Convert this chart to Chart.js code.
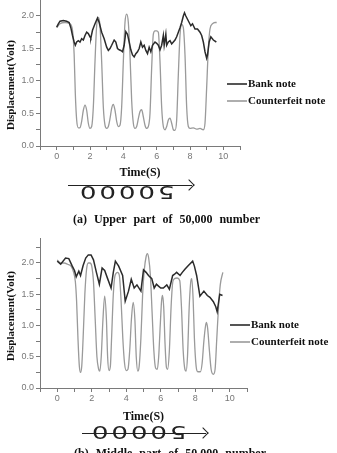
<!DOCTYPE html>
<html>
<head>
<meta charset="utf-8">
<script src="https://cdn.jsdelivr.net/npm/chart.js@4.4.1/dist/chart.umd.min.js"></script>
<style>
  html, body { margin: 0; padding: 0; background: #fff; }
  body { width: 337px; height: 453px; position: relative; overflow: hidden; }
  .box { position: absolute; left: 0; width: 337px; }
  .cap { position: absolute; font: bold 12px "Liberation Serif", serif; word-spacing: 4px; color: #111; white-space: nowrap; }
  .arrow { position: absolute; height: 20px; }
  .arrow .shaft { position: absolute; left: 0; right: 2px; height: 0; border-top: 1.6px solid #222; }
  .arrow .head { position: absolute; right: 1px; width: 7px; height: 7px; border-top: 1.6px solid #222; border-right: 1.6px solid #222; transform: rotate(45deg); }
  .arrow .num { position: absolute; font: 18px "DejaVu Sans", sans-serif; letter-spacing: 2px; color: #222; transform: rotate(180deg) scaleX(1.45); transform-origin: center; }
</style>
</head>
<body>
<div class="box" style="top:-10px;height:190px"><canvas id="chartA"></canvas></div>
<div class="box" style="top:238px;height:186px"><canvas id="chartB"></canvas></div>

<div class="arrow" style="left:68px;top:176px;width:126px">
  <div class="shaft" style="top:9px"></div>
  <div class="head" style="top:5px"></div>
  <div class="num" style="left:24px;top:6px">50000</div>
</div>
<div class="cap" style="left:73px;top:212px">(a) Upper part of 50,000 number</div>

<div class="arrow" style="left:82px;top:423px;width:126px">
  <div class="shaft" style="top:10px"></div>
  <div class="head" style="top:6px"></div>
  <div class="num" style="left:22px;top:-1px">50000</div>
</div>
<div class="cap" style="left:74px;top:446px">(b) Middle part of 50,000 number</div>

<script>
// (a) upper part
const bankTimeA = [0, 0.1, 0.2, 0.4, 0.6, 0.75, 0.85, 0.95, 1.05, 1.12, 1.2, 1.3, 1.4, 1.5, 1.6, 1.7, 1.8, 1.9, 2.0, 2.05, 2.15, 2.3, 2.45, 2.55, 2.7, 2.85, 3.0, 3.1, 3.2, 3.3, 3.45, 3.55, 3.65, 3.75, 3.85, 3.95, 4.05, 4.15, 4.25, 4.35, 4.45, 4.55, 4.65, 4.75, 4.85, 4.95, 5.05, 5.15, 5.25, 5.35, 5.45, 5.55, 5.65, 5.75, 5.9, 6.0, 6.1, 6.2, 6.3, 6.4, 6.45, 6.55, 6.6, 6.7, 6.8, 6.9, 7.0, 7.1, 7.2, 7.3, 7.4, 7.5, 7.6, 7.67, 7.75, 7.85, 7.95, 8.05, 8.15, 8.3, 8.45, 8.6, 8.7, 8.8, 8.9, 9.0, 9.05, 9.15, 9.25, 9.4, 9.58];
const bankValA = [1.83, 1.88, 1.92, 1.93, 1.92, 1.9, 1.82, 1.7, 1.6, 1.55, 1.6, 1.62, 1.6, 1.65, 1.63, 1.7, 1.75, 1.73, 1.68, 1.66, 1.78, 1.88, 1.97, 1.9, 1.75, 1.65, 1.52, 1.47, 1.5, 1.55, 1.63, 1.6, 1.5, 1.48, 1.47, 1.45, 1.55, 1.76, 1.72, 1.6, 1.48, 1.4, 1.37, 1.42, 1.45, 1.5, 1.6, 1.52, 1.55, 1.47, 1.42, 1.52, 1.45, 1.55, 1.6, 1.58, 1.55, 1.48, 1.55, 1.7, 1.55, 1.72, 1.55, 1.6, 1.62, 1.57, 1.6, 1.63, 1.68, 1.75, 1.82, 1.9, 2.0, 2.05, 2.0, 1.95, 1.9, 1.85, 1.88, 1.8, 1.8, 1.75, 1.7, 1.6, 1.45, 1.35, 1.4, 1.6, 1.68, 1.63, 1.6];
const fakeTimeA = [0, 0.2, 0.5, 0.8, 0.95, 1.05, 1.12, 1.2, 1.3, 1.4, 1.5, 1.6, 1.7, 1.8, 1.9, 2.0, 2.1, 2.2, 2.3, 2.4, 2.5, 2.6, 2.7, 2.8, 2.9, 3.0, 3.1, 3.2, 3.3, 3.4, 3.5, 3.6, 3.7, 3.8, 3.9, 4.0, 4.1, 4.2, 4.3, 4.4, 4.5, 4.6, 4.7, 4.8, 4.9, 5.0, 5.1, 5.2, 5.3, 5.4, 5.5, 5.6, 5.7, 5.8, 5.9, 6.0, 6.1, 6.2, 6.3, 6.4, 6.5, 6.6, 6.7, 6.8, 6.9, 7.0, 7.1, 7.2, 7.3, 7.4, 7.5, 7.6, 7.7, 7.8, 7.9, 8.0, 8.2, 8.4, 8.6, 8.8, 8.9, 9.0, 9.1, 9.2, 9.35, 9.5, 9.6];
const fakeValA = [1.82, 1.88, 1.9, 1.88, 1.78, 1.4, 0.8, 0.4, 0.28, 0.28, 0.38, 0.55, 0.63, 0.55, 0.35, 0.27, 0.3, 0.6, 1.3, 1.85, 1.98, 1.85, 1.3, 0.6, 0.32, 0.27, 0.3, 0.42, 0.58, 0.64, 0.55, 0.38, 0.3, 0.32, 0.6, 1.3, 1.9, 2.03, 1.9, 1.4, 0.7, 0.35, 0.27, 0.3, 0.42, 0.53, 0.56, 0.45, 0.32, 0.27, 0.3, 0.5, 1.2, 1.72, 1.77, 1.77, 1.75, 1.3, 0.6, 0.3, 0.25, 0.3, 0.4, 0.43, 0.35, 0.25, 0.24, 0.4, 1.1, 1.7, 1.87, 1.82, 1.4, 0.6, 0.3, 0.27, 0.28, 0.26, 0.27, 0.25, 0.35, 0.9, 1.5, 1.8, 1.88, 1.9, 1.9];

// (b) middle part
const bankTimeB = [0, 0.2, 0.48, 0.67, 0.87, 1.0, 1.1, 1.25, 1.35, 1.5, 1.65, 1.8, 1.96, 2.1, 2.27, 2.44, 2.6, 2.75, 2.92, 3.12, 3.25, 3.37, 3.56, 3.79, 3.94, 4.13, 4.29, 4.46, 4.62, 4.85, 5.0, 5.15, 5.29, 5.48, 5.62, 5.75, 5.87, 6.0, 6.15, 6.35, 6.5, 6.69, 6.8, 6.92, 7.12, 7.25, 7.4, 7.6, 7.85, 7.95, 8.08, 8.27, 8.5, 8.7, 8.85, 9.05, 9.19, 9.27, 9.42, 9.58];
const bankValB = [2.03, 1.98, 2.08, 2.07, 1.95, 1.88, 1.78, 1.87, 1.8, 1.96, 2.08, 2.13, 2.13, 2.05, 1.85, 1.66, 1.92, 1.88, 1.75, 1.6, 1.85, 2.03, 1.95, 1.8, 1.39, 1.55, 1.74, 1.6, 1.65, 1.55, 1.89, 1.85, 1.8, 1.75, 1.6, 1.66, 1.63, 1.6, 1.6, 1.65, 1.58, 1.8, 1.82, 1.85, 1.8, 1.85, 1.9, 1.96, 2.03, 1.95, 1.8, 1.47, 1.55, 1.48, 1.45, 1.38, 1.3, 1.22, 1.5, 1.48];
const fakeTimeB = [0, 0.2, 0.4, 0.6, 0.8, 0.95, 1.05, 1.12, 1.2, 1.28, 1.35, 1.42, 1.5, 1.6, 1.7, 1.8, 1.9, 2.0, 2.1, 2.2, 2.3, 2.4, 2.47, 2.55, 2.65, 2.75, 2.85, 2.92, 3.0, 3.08, 3.15, 3.25, 3.35, 3.5, 3.6, 3.7, 3.8, 3.9, 4.0, 4.1, 4.2, 4.3, 4.4, 4.5, 4.58, 4.67, 4.75, 4.85, 4.95, 5.05, 5.15, 5.22, 5.3, 5.4, 5.5, 5.6, 5.7, 5.8, 5.88, 5.97, 6.05, 6.1, 6.17, 6.25, 6.33, 6.4, 6.5, 6.6, 6.7, 6.8, 6.95, 7.1, 7.2, 7.3, 7.4, 7.47, 7.55, 7.65, 7.75, 7.8, 7.88, 7.95, 8.05, 8.15, 8.3, 8.4, 8.5, 8.6, 8.65, 8.72, 8.82, 8.92, 9.05, 9.15, 9.25, 9.35, 9.45, 9.6];
const fakeValB = [2.05, 2.0, 2.0, 1.98, 1.95, 1.85, 1.7, 1.4, 0.8, 0.35, 0.25, 0.35, 0.8, 1.5, 1.9, 2.0, 2.0, 1.95, 1.7, 1.1, 0.5, 0.3, 0.27, 0.5, 1.1, 1.47, 1.1, 0.5, 0.28, 0.35, 0.8, 1.5, 1.8, 1.85, 1.8, 1.4, 0.8, 0.4, 0.28, 0.3, 0.6, 1.1, 1.37, 1.1, 0.5, 0.27, 0.35, 0.8, 1.5, 1.9, 2.1, 2.15, 2.08, 1.8, 1.2, 0.6, 0.32, 0.3, 0.5, 1.0, 1.4, 1.48, 1.3, 0.7, 0.33, 0.3, 0.6, 1.3, 1.7, 1.75, 1.76, 1.72, 1.3, 0.6, 0.3, 0.27, 0.5, 1.3, 1.72, 1.75, 1.4, 0.8, 0.35, 0.26, 0.26, 0.4, 0.75, 1.0, 1.05, 0.95, 0.6, 0.3, 0.22, 0.3, 0.8, 1.3, 1.65, 1.85];

const seriesNames = ['Bank note', 'Counterfeit note'];
const xTicks = [0, 2, 4, 6, 8, 10];
const yTicks = [0.0, 0.5, 1.0, 1.5, 2.0];
const yTitle = 'Displacement(Volt)';

const bankColor = '#2b2b2b';
const fakeColor = '#9a9a9a';
const axisColor = '#7a7a7a';

function pts(ts, vs) {
    return ts.map((t, i) => ({ x: t, y: vs[i] }));
}

// legend and y title placed by hand, as in the paper figure
const sideLegend = {
    id: 'sideLegend',
    afterDraw(chart, args, opts) {
        const ctx = chart.ctx;
        ctx.save();
        ctx.font = 'bold 11px "Liberation Serif", serif';
        ctx.textBaseline = 'middle';
        chart.data.datasets.forEach((ds, i) => {
            const y = opts.y + i * opts.gap;
            ctx.strokeStyle = ds.borderColor;
            ctx.lineWidth = 1.6;
            ctx.beginPath();
            ctx.moveTo(opts.x, y);
            ctx.lineTo(opts.x + 20, y);
            ctx.stroke();
            ctx.fillStyle = '#111';
            ctx.fillText(ds.label, opts.x + 21, y + 0.5);
        });
        // y axis title
        ctx.translate(11, opts.titleY);
        ctx.rotate(-Math.PI / 2);
        ctx.textAlign = 'center';
        ctx.fillText(yTitle, 0, 0);
        ctx.restore();
    }
};

function makeChart(id, bank, fake, cfg) {
    return new Chart(document.getElementById(id), {
        type: 'line',
        data: {
            datasets: [
                {
                    label: seriesNames[0],
                    data: bank,
                    borderColor: bankColor,
                    borderWidth: 1.5,
                    pointRadius: 0,
                    tension: 0
                },
                {
                    label: seriesNames[1],
                    data: fake,
                    borderColor: fakeColor,
                    borderWidth: 1.3,
                    pointRadius: 0,
                    cubicInterpolationMode: 'monotone'
                }
            ]
        },
        options: {
            responsive: true,
            maintainAspectRatio: false,
            animation: false,
            layout: { padding: { left: 0, right: cfg.right, top: 0, bottom: 0 } },
            plugins: {
                legend: { display: false },
                tooltip: { enabled: false },
                sideLegend: cfg.legend
            },
            scales: {
                x: {
                    type: 'linear',
                    min: -1,
                    max: 11,
                    afterFit: s => { s.height = cfg.xh; s.paddingLeft = 0; s.paddingRight = 0; },
                    grid: { drawOnChartArea: false, drawTicks: true, tickLength: 4, color: axisColor },
                    border: { display: true, color: axisColor, width: 1 },
                    ticks: {
                        stepSize: 1,
                        autoSkip: false,
                        maxRotation: 0,
                        padding: 1,
                        color: '#777',
                        font: { family: 'Liberation Sans, sans-serif', size: 9 },
                        callback: v => xTicks.includes(v) ? String(v) : ''
                    },
                    title: {
                        display: true,
                        text: 'Time(S)',
                        color: '#111',
                        font: { family: 'Liberation Serif, serif', size: 12, weight: 'bold' },
                        padding: { top: cfg.tpad, bottom: 0 }
                    }
                },
                y: {
                    min: 0,
                    max: 2.4,
                    afterFit: s => { s.width = 40; s.paddingTop = 0; s.paddingBottom = 0; },
                    grid: { drawOnChartArea: false, drawTicks: true, tickLength: 4, color: axisColor },
                    border: { display: true, color: axisColor, width: 1 },
                    ticks: {
                        stepSize: 0.25,
                        includeBounds: false,
                        autoSkip: false,
                        padding: 2,
                        color: '#777',
                        font: { family: 'Liberation Sans, sans-serif', size: 9 },
                        callback: v => yTicks.some(t => Math.abs(t - v) < 1e-6) ? v.toFixed(1) : ''
                    }
                }
            }
        },
        plugins: [sideLegend]
    });
}

makeChart('chartA', pts(bankTimeA, bankValA), pts(fakeTimeA, fakeValA),
    { right: 97, xh: 34, tpad: 3, legend: { x: 227, y: 94, gap: 17, titleY: 95 } });
makeChart('chartB', pts(bankTimeB, bankValB), pts(fakeTimeB, fakeValB),
    { right: 90, xh: 36, tpad: 3, legend: { x: 230, y: 87, gap: 17, titleY: 78 } });
</script>
</body>
</html>
